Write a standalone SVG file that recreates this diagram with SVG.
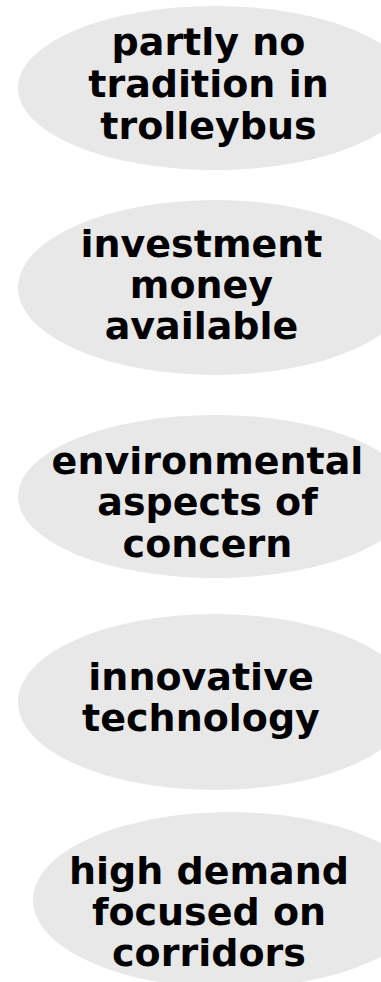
<svg xmlns="http://www.w3.org/2000/svg" width="381" height="982" viewBox="0 0 381 982">
  <style>
    .bubble { fill: #e8e8e8; stroke: none; }
    .label { font-family: "DejaVu Sans", Verdana, sans-serif; font-weight: bold; font-size: 38px; fill: #000; text-anchor: middle; }
  </style>
  <rect width="381" height="982" fill="#ffffff"/>

  <g id="node-tradition">
    <ellipse class="bubble" cx="215" cy="88" rx="197" ry="82"/>
    <text class="label"><tspan x="208.5" y="55">partly no</tspan><tspan x="208.5" y="97">tradition in</tspan><tspan x="208.5" y="138.5">trolleybus</tspan></text>
  </g>

  <g id="node-investment">
    <ellipse class="bubble" cx="215" cy="287.5" rx="197" ry="87.5"/>
    <text class="label"><tspan x="201.5" y="256.5">investment</tspan><tspan x="201.5" y="297.5">money</tspan><tspan x="201.5" y="338.5">available</tspan></text>
  </g>

  <g id="node-environment">
    <ellipse class="bubble" cx="215" cy="496.5" rx="197" ry="81.5"/>
    <text class="label"><tspan x="207.5" y="473.5">environmental</tspan><tspan x="207.5" y="515">aspects of</tspan><tspan x="207.5" y="556.5">concern</tspan></text>
  </g>

  <g id="node-technology">
    <ellipse class="bubble" cx="215" cy="702" rx="197" ry="88"/>
    <text class="label"><tspan x="201" y="689.5">innovative</tspan><tspan x="201" y="731">technology</tspan></text>
  </g>

  <g id="node-demand">
    <ellipse class="bubble" cx="230" cy="900" rx="197" ry="88"/>
    <text class="label"><tspan x="209" y="883.5">high demand</tspan><tspan x="209" y="925">focused on</tspan><tspan x="209" y="966">corridors</tspan></text>
  </g>

  <g id="connectors"/>
</svg>
